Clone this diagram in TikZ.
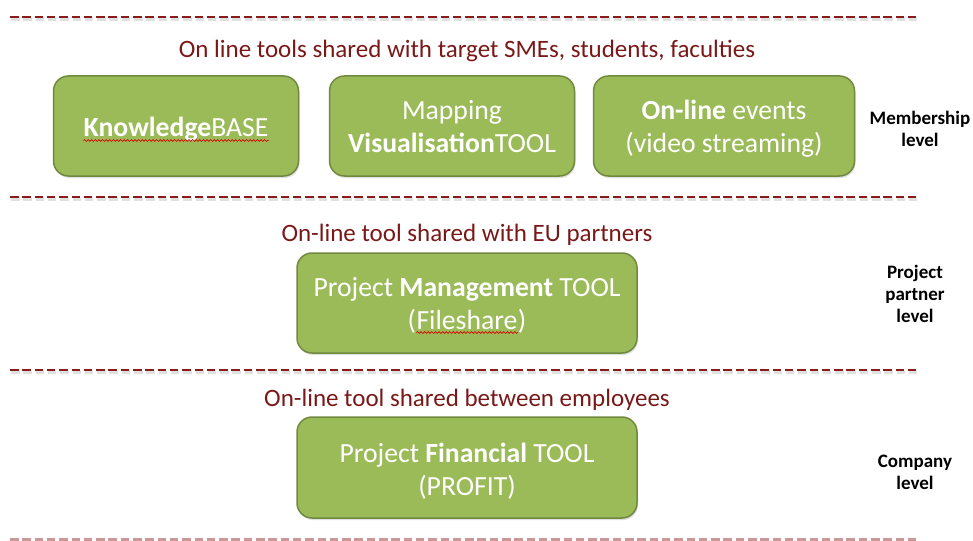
\documentclass[tikz,border=0pt]{standalone}
\usepackage{fontspec}
\setmainfont{Carlito}
\usetikzlibrary{shadows,decorations.pathmorphing}
\definecolor{boxgreen}{HTML}{9BBB59}
\definecolor{boxedge}{HTML}{71893F}
\definecolor{darkred}{HTML}{8B1A1A}
\definecolor{headred}{HTML}{7A1818}
\tikzset{
  toolbox/.style={draw=boxedge, line width=1.5pt, fill=boxgreen, rounded corners=15pt,
    drop shadow={opacity=0.25, shadow xshift=1pt, shadow yshift=-2pt}},
  boxtext/.style={text=white, inner sep=0pt, anchor=base, font=\fontsize{27.7}{33}\selectfont},
  heading/.style={text=headred, inner sep=0pt, anchor=base, font=\fontsize{25}{28}\selectfont},
  levellabel/.style={inner sep=0pt, anchor=base, font=\bfseries\fontsize{19}{22}\selectfont},
  sepline/.style={draw=darkred, line width=2.9pt, dash pattern=on 8.5pt off 3.8pt},
  sepshadow/.style={draw=black, opacity=0.12, line width=2.6pt, dash pattern=on 8.5pt off 3.8pt},
  spell/.style={draw=red!85!black, line width=0.7pt, decorate,
    decoration={snake, amplitude=0.9pt, segment length=3.6pt}}
}
\begin{document}
\begin{tikzpicture}[x=1pt,y=-1pt]
\useasboundingbox (0,0) rectangle (973,540);
\clip (0,0) rectangle (973,540);
% separators
\foreach \yy in {17,197,370}{
  \draw[sepshadow] (11,\yy+2.5) -- (919,\yy+2.5);
  \draw[sepline] (10,\yy) -- (918,\yy);
}
\draw[sepline, draw=darkred!45] (10,539.5) -- (918,539.5);
% headings
\node[heading] (h1) at (467,58) {On line tools shared with target SMEs, students, faculties};
\node[heading] (h2) at (467,241) {On-line tool shared with EU partners};
\node[heading] (h3) at (467,406) {On-line tool shared between employees};
% boxes
\node[toolbox, minimum width=245pt, minimum height=100pt] (kb) at (176,126) {};
\node[toolbox, minimum width=245pt, minimum height=100pt] (map) at (452,126) {};
\node[toolbox, minimum width=261pt, minimum height=100pt] (ev) at (724,126) {};
\node[toolbox, minimum width=340pt, minimum height=100pt] (pm) at (467,303) {};
\node[toolbox, minimum width=340pt, minimum height=101pt] (pf) at (467,467.5) {};
% box texts
\node[boxtext] (kbt) at (176,137) {\textbf{Knowledge}BASE};
\draw[spell] ([yshift=-3.5pt]kbt.base west) -- ([yshift=-3.5pt]kbt.base east);
\node[boxtext] (map1) at (452,120) {Mapping};
\node[boxtext] (map2) at (452,153) {\textbf{Visualisation}TOOL};
\node[boxtext] (ev1) at (724,120) {\textbf{On-line} events};
\node[boxtext] (ev2) at (724,153) {(video streaming)};
\node[boxtext] (pm1) at (467,296) {Project \textbf{Management} TOOL};
\node[boxtext] (fs) at (467,329) {Fileshare};
\node[boxtext, anchor=base east] (fsl) at (fs.base west) {(};
\node[boxtext, anchor=base west] (fsr) at (fs.base east) {)};
\draw[spell] ([yshift=-3.5pt]fs.base west) -- ([yshift=-3.5pt]fs.base east);
\node[boxtext] (pf1) at (467,462) {Project \textbf{Financial} TOOL};
\node[boxtext] (pf2) at (467,495) {(PROFIT)};
% level labels
\node[levellabel] (l1a) at (920,125) {Membership};
\node[levellabel] (l1b) at (920,147) {level};
\node[levellabel] (l2a) at (915,278) {Project};
\node[levellabel] (l2b) at (915,300) {partner};
\node[levellabel] (l2c) at (915,322) {level};
\node[levellabel] (l3a) at (915,467) {Company};
\node[levellabel] (l3b) at (915,489) {level};
\end{tikzpicture}
\end{document}
